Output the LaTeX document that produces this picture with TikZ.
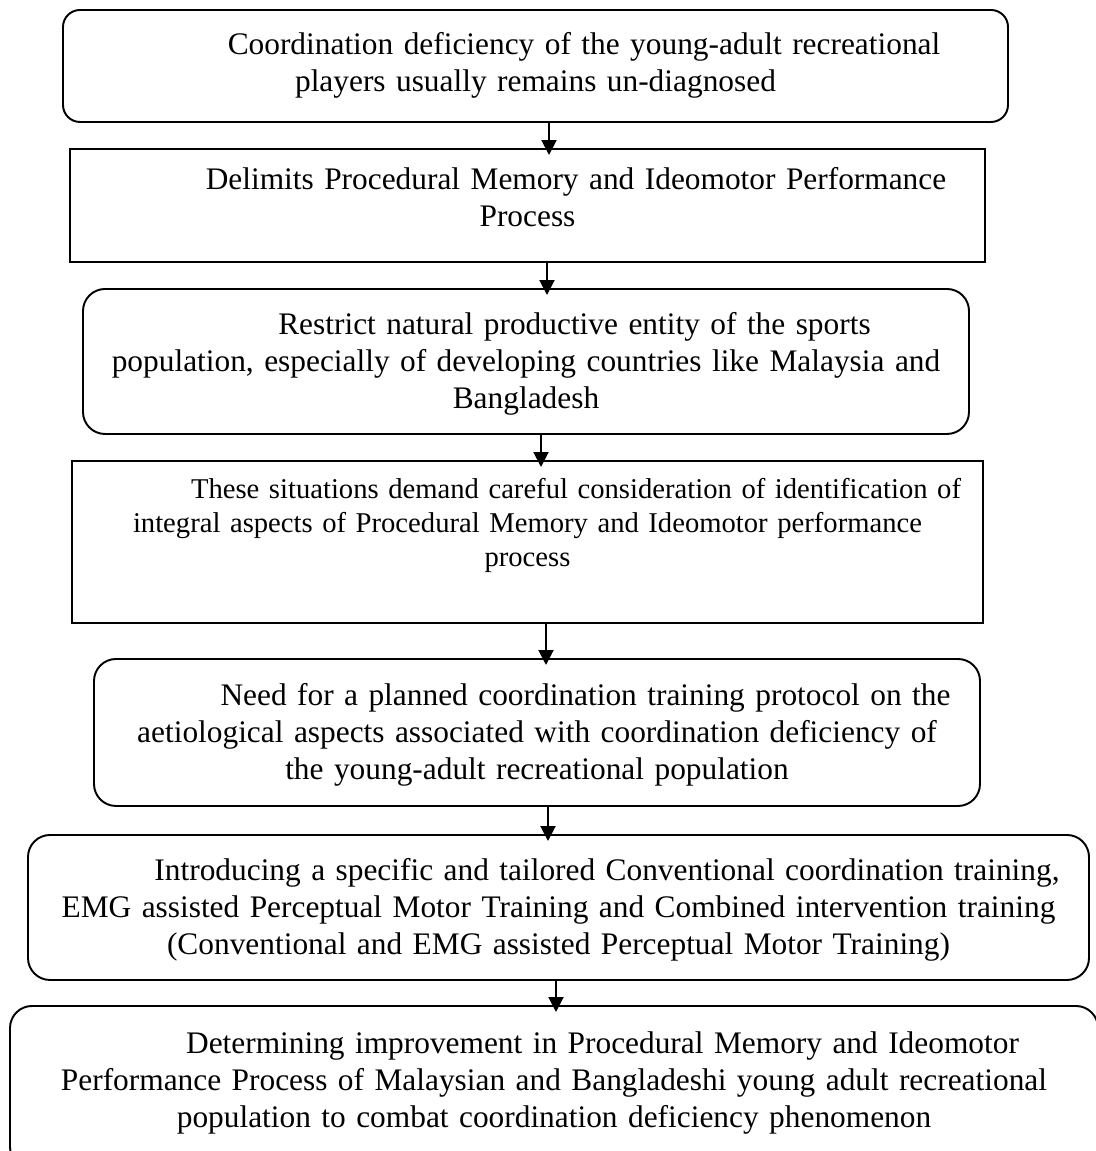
\documentclass[tikz,border=0pt]{standalone}
\usepackage{fontspec}
\setmainfont{Liberation Serif}
\usetikzlibrary{arrows.meta}

\begin{document}
\begin{tikzpicture}[
	box/.style={draw, line width=1.1pt, inner sep=0pt, align=center, anchor=north, font=\fontsize{17.85pt}{21.05pt}\selectfont},
	roundbox/.style={box, rounded corners=0.44cm},
	flow/.style={line width=1.1pt, shorten >=-0.14cm, -{Triangle[length=0.3cm, width=0.3cm]}}
]
	%%%%% START %%%%%
	
	\useasboundingbox (0, 0) rectangle (21.92, -23.02);
	
	\node[roundbox, rounded corners=0.34cm, minimum width=18.9cm, text width=18.7cm, text height=0.9cm, text depth=1.34cm] (undiagnosed) at (10.71, -0.18) {\hspace*{1.94cm}Coordination deficiency of the young-adult recreational\\players usually remains un-diagnosed};
	
	\node[box, minimum width=18.3cm, text width=18.1cm, text height=0.82cm, text depth=1.44cm] (delimits) at (10.55, -2.96) {\hspace*{1.94cm}Delimits Procedural Memory and Ideomotor Performance\\Process};
	
	\node[roundbox, minimum width=17.72cm, text width=17.5cm, text height=0.92cm, text depth=1.98cm] (restrict) at (10.52, -5.76) {\hspace*{1.94cm}Restrict natural productive entity of the sports\\population, especially of developing countries like Malaysia and\\Bangladesh};
	
	\node[box, minimum width=18.22cm, text width=18cm, text height=0.76cm, text depth=2.48cm, font=\fontsize{16.3pt}{19.35pt}\selectfont] (demand) at (10.55, -9.2) {\hspace*{1.94cm}These situations demand careful consideration of identification of\\integral aspects of Procedural Memory and Ideomotor performance\\process};
	
	\node[roundbox, minimum width=17.72cm, text width=17.5cm, text height=0.94cm, text depth=2cm] (need) at (10.74, -13.16) {\hspace*{1.94cm}Need for a planned coordination training protocol on the\\aetiological aspects associated with coordination deficiency of\\the young-adult recreational population};
	
	\node[roundbox, minimum width=21.22cm, text width=21cm, text height=0.92cm, text depth=1.98cm] (training) at (11.17, -16.68) {\hspace*{1.94cm}Introducing a specific and tailored Conventional coordination training,\\EMG assisted Perceptual Motor Training and Combined intervention training\\(Conventional and EMG assisted Perceptual Motor Training)};
	
	\node[roundbox, minimum width=21.76cm, text width=21.5cm, text height=0.96cm, text depth=2.3cm] (improve) at (11.08, -20.1) {\hspace*{1.94cm}Determining improvement in Procedural Memory and Ideomotor\\Performance Process of Malaysian and Bangladeshi young adult recreational\\population to combat coordination deficiency phenomenon};
	
	\draw[flow] (undiagnosed.south -| 10.98, 0) -- (delimits.north -| 10.98, 0);
	\draw[flow] (delimits.south -| 10.94, 0) -- (restrict.north -| 10.94, 0);
	\draw[flow] (restrict.south -| 10.82, 0) -- (demand.north -| 10.82, 0);
	\draw[flow] (demand.south -| 10.92, 0) -- (need.north -| 10.92, 0);
	\draw[flow] (need.south -| 10.96, 0) -- (training.north -| 10.96, 0);
	\draw[flow] (training.south -| 11.12, 0) -- (improve.north -| 11.12, 0);
	
	%%%%% END %%%%%
\end{tikzpicture}
\end{document}
